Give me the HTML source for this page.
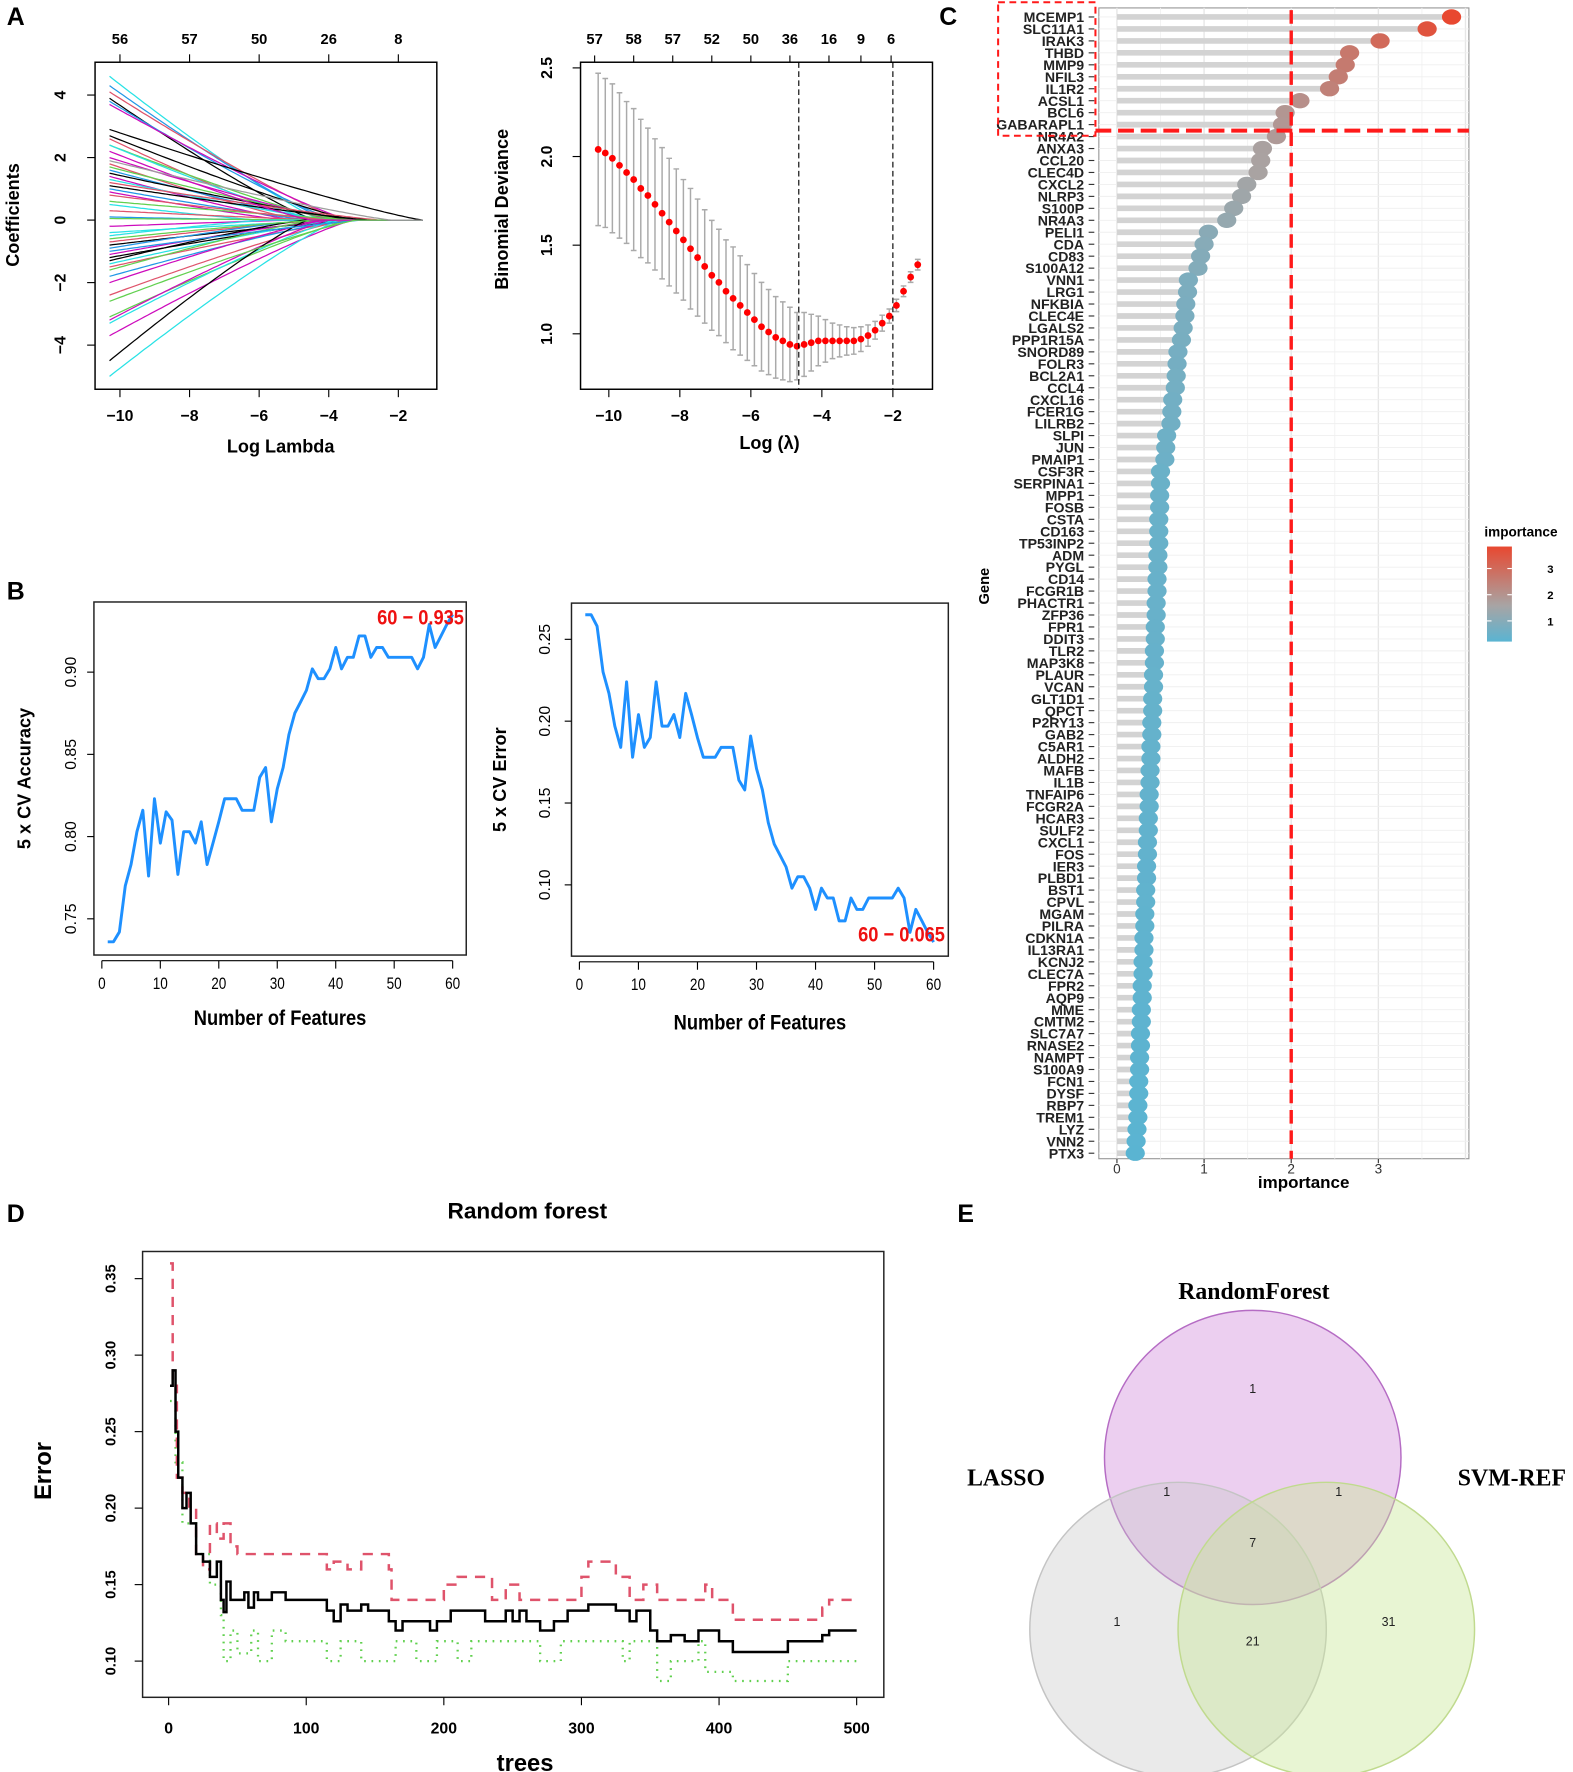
<!DOCTYPE html>
<html><head><meta charset="utf-8"><style>
html,body{margin:0;padding:0;background:#fff;}
svg{display:block;font-family:"Liberation Sans",Arial,sans-serif;}
</style></head><body>
<svg id="fig" xmlns="http://www.w3.org/2000/svg" width="1573" height="1772" viewBox="0 0 1390 1566" preserveAspectRatio="none"></svg>
<script>
// ---------- DATA ----------
const coefStart=[4.6,4.3,4.1,3.9,3.8,3.7,2.9,2.7,2.6,2.4,2.4,2.0,1.8,1.7,1.6,1.5,1.4,1.3,1.2,1.0,0.9,0.6,0.5,0.3,0.1,0.05,-0.2,-0.4,-0.5,-0.7,-0.8,-0.9,-1.1,-1.2,-1.3,-1.4,-1.5,-1.6,-1.8,-2.0,-2.4,-3.1,-3.2,-3.3,-3.7,-4.5,-5.0,1.1,-0.6,0.8,-1.0,2.2,-2.6,1.9];
const coefZero=[-4.2,-4.0,-3.6,-4.4,-3.8,-3.4,-1.3,-3.3,-4.6,-3.9,-4.3,-3.7,-4.8,-3.5,-4.1,-3.2,-5.0,-3.9,-2.5,-4.5,-5.2,-3.1,-6.0,-4.0,-5.5,-3.0,-4.9,-3.6,-5.8,-4.2,-3.3,-4.6,-4.0,-3.4,-4.7,-3.8,-3.2,-4.4,-3.6,-4.1,-3.5,-3.4,-4.0,-3.8,-3.3,-4.6,-3.7,-2.8,-4.3,-3.9,-3.0,-4.5,-3.2,-2.2];
const coefColors=["#28E2E5","#2297E6","#DF536B","#000000","#2297E6","#CD0BBC","#000000","#000000","#DF536B","#61D04F","#28E2E5","#CD0BBC","#DF536B","#61D04F","#2297E6","#000000","#CD0BBC","#28E2E5","#DF536B","#2297E6","#CD0BBC","#61D04F","#28E2E5","#DF536B","#2297E6","#61D04F","#CD0BBC","#28E2E5","#28E2E5","#DF536B","#000000","#2297E6","#CD0BBC","#000000","#000000","#28E2E5","#DF536B","#61D04F","#2297E6","#CD0BBC","#DF536B","#61D04F","#CD0BBC","#28E2E5","#CD0BBC","#000000","#28E2E5","#000000","#61D04F","#DF536B","#2297E6","#CD0BBC","#61D04F","#9E9E9E"];
const lamTicks=[-10,-8,-6,-4,-2];
const dfTopA=["56","57","50","26","8"];
const coefTicks=[-4,-2,0,2,4];
const cvLam=[-10.3,-10.1,-9.9,-9.7,-9.5,-9.3,-9.1,-8.9,-8.7,-8.5,-8.3,-8.1,-7.9,-7.7,-7.5,-7.3,-7.1,-6.9,-6.7,-6.5,-6.3,-6.1,-5.9,-5.7,-5.5,-5.3,-5.1,-4.9,-4.7,-4.5,-4.3,-4.1,-3.9,-3.7,-3.5,-3.3,-3.1,-2.9,-2.7,-2.5,-2.3,-2.1,-1.9,-1.7,-1.5,-1.3];
const cvMean=[2.04,2.02,1.99,1.95,1.91,1.87,1.82,1.78,1.73,1.68,1.63,1.58,1.53,1.48,1.43,1.38,1.33,1.29,1.24,1.20,1.16,1.12,1.08,1.04,1.01,0.98,0.96,0.94,0.93,0.94,0.95,0.96,0.96,0.96,0.96,0.96,0.96,0.97,0.99,1.02,1.06,1.10,1.16,1.24,1.32,1.39];
const cvSE=[0.43,0.42,0.42,0.41,0.40,0.40,0.39,0.38,0.37,0.37,0.36,0.35,0.34,0.34,0.33,0.32,0.31,0.30,0.29,0.29,0.28,0.27,0.26,0.25,0.24,0.23,0.22,0.21,0.19,0.18,0.16,0.14,0.12,0.10,0.09,0.08,0.075,0.07,0.06,0.05,0.045,0.04,0.035,0.03,0.03,0.03];
const dfTopB=["57","58","57","52","50","36","16","9","6"];
const dfTopBLam=[-10.4,-9.3,-8.2,-7.1,-6.0,-4.9,-3.8,-2.9,-2.05];
const devTicks=[1.0,1.5,2.0,2.5];
const lamMin=-4.65, lam1se=-2.0;
const nFeat=[1,2,3,4,5,6,7,8,9,10,11,12,13,14,15,16,17,18,19,20,21,22,23,24,25,26,27,28,29,30,31,32,33,34,35,36,37,38,39,40,41,42,43,44,45,46,47,48,49,50,51,52,53,54,55,56,57,58,59,60];
const accVals=[0.736,0.736,0.742,0.77,0.783,0.803,0.816,0.776,0.823,0.796,0.815,0.81,0.777,0.803,0.803,0.796,0.809,0.783,0.796,0.809,0.823,0.823,0.823,0.816,0.816,0.816,0.836,0.842,0.809,0.829,0.842,0.862,0.875,0.882,0.889,0.902,0.896,0.896,0.902,0.915,0.902,0.909,0.909,0.922,0.922,0.909,0.915,0.915,0.909,0.909,0.909,0.909,0.909,0.902,0.909,0.929,0.915,0.922,0.929,0.935];
const errVals=[0.265,0.265,0.258,0.23,0.217,0.197,0.184,0.224,0.178,0.204,0.184,0.19,0.224,0.197,0.197,0.204,0.19,0.217,0.204,0.19,0.178,0.178,0.178,0.184,0.184,0.184,0.164,0.158,0.191,0.171,0.158,0.138,0.125,0.118,0.111,0.098,0.105,0.105,0.098,0.085,0.098,0.092,0.092,0.078,0.078,0.092,0.085,0.085,0.092,0.092,0.092,0.092,0.092,0.098,0.092,0.071,0.085,0.078,0.071,0.065];
const featTicks=[0,10,20,30,40,50,60];
const accTicks=[0.75,0.80,0.85,0.90];
const errTicks=[0.10,0.15,0.20,0.25];
const genes=["MCEMP1","SLC11A1","IRAK3","THBD","MMP9","NFIL3","IL1R2","ACSL1","BCL6","GABARAPL1","NR4A2","ANXA3","CCL20","CLEC4D","CXCL2","NLRP3","S100P","NR4A3","PELI1","CDA","CD83","S100A12","VNN1","LRG1","NFKBIA","CLEC4E","LGALS2","PPP1R15A","SNORD89","FOLR3","BCL2A1","CCL4","CXCL16","FCER1G","LILRB2","SLPI","JUN","PMAIP1","CSF3R","SERPINA1","MPP1","FOSB","CSTA","CD163","TP53INP2","ADM","PYGL","CD14","FCGR1B","PHACTR1","ZFP36","FPR1","DDIT3","TLR2","MAP3K8","PLAUR","VCAN","GLT1D1","QPCT","P2RY13","GAB2","C5AR1","ALDH2","MAFB","IL1B","TNFAIP6","FCGR2A","HCAR3","SULF2","CXCL1","FOS","IER3","PLBD1","BST1","CPVL","MGAM","PILRA","CDKN1A","IL13RA1","KCNJ2","CLEC7A","FPR2","AQP9","MME","CMTM2","SLC7A7","RNASE2","NAMPT","S100A9","FCN1","DYSF","RBP7","TREM1","LYZ","VNN2","PTX3"];
const importance=[3.84,3.56,3.02,2.67,2.62,2.54,2.44,2.10,1.93,1.90,1.83,1.67,1.65,1.62,1.49,1.43,1.34,1.26,1.05,1.00,0.96,0.93,0.82,0.81,0.79,0.78,0.76,0.74,0.70,0.69,0.68,0.67,0.64,0.63,0.62,0.57,0.56,0.55,0.50,0.50,0.49,0.49,0.48,0.48,0.48,0.47,0.47,0.46,0.46,0.45,0.45,0.44,0.44,0.43,0.43,0.42,0.42,0.41,0.41,0.40,0.40,0.39,0.39,0.38,0.38,0.37,0.37,0.36,0.36,0.35,0.35,0.34,0.34,0.33,0.33,0.32,0.32,0.31,0.31,0.30,0.30,0.29,0.29,0.28,0.28,0.27,0.27,0.26,0.26,0.25,0.25,0.24,0.24,0.23,0.22,0.21];
const impTicks=[0,1,2,3];
const impCut=2;
const oobTrees=[1,3,5,7,10,13,16,20,25,30,35,38,40,42,45,50,55,58,62,65,75,85,115,120,125,130,135,140,145,160,165,170,190,195,205,230,245,250,255,260,270,280,290,300,305,325,335,340,350,355,365,375,385,395,400,410,450,475,480,500];
const oobVals=[0.28,0.29,0.25,0.22,0.20,0.21,0.19,0.17,0.165,0.155,0.165,0.14,0.132,0.152,0.14,0.14,0.145,0.135,0.145,0.14,0.145,0.14,0.133,0.126,0.137,0.133,0.133,0.137,0.133,0.126,0.12,0.126,0.12,0.126,0.133,0.126,0.133,0.126,0.133,0.126,0.12,0.126,0.133,0.133,0.137,0.133,0.126,0.133,0.12,0.113,0.117,0.113,0.12,0.12,0.113,0.106,0.113,0.117,0.12,0.12];
const c1Trees=[1,3,6,10,15,20,25,30,35,40,45,50,115,120,130,140,160,162,200,210,235,245,255,300,305,325,335,345,355,390,395,410,475,480,500];
const c1Vals=[0.36,0.28,0.22,0.21,0.20,0.17,0.16,0.19,0.18,0.19,0.175,0.17,0.16,0.165,0.16,0.17,0.16,0.14,0.15,0.155,0.14,0.15,0.14,0.155,0.165,0.155,0.14,0.15,0.14,0.15,0.14,0.127,0.135,0.14,0.14];
const c2Trees=[1,5,10,20,30,38,40,45,50,60,65,75,85,115,125,140,165,180,195,210,220,270,285,330,335,355,365,385,390,410,450,500];
const c2Vals=[0.27,0.23,0.19,0.17,0.15,0.13,0.10,0.12,0.105,0.12,0.10,0.12,0.113,0.10,0.113,0.10,0.113,0.10,0.113,0.10,0.113,0.10,0.113,0.10,0.113,0.087,0.10,0.113,0.093,0.087,0.10,0.10];
const treeTicks=[0,100,200,300,400,500];
const rfErrTicks=[0.10,0.15,0.20,0.25,0.30,0.35];
const vennSets=["RandomForest","LASSO","SVM-REF"];
const vennCounts=[1,1,1,7,1,21,31];

// ---------- HELPERS ----------
const NS='http://www.w3.org/2000/svg';
const svg=document.getElementById('fig');
function mk(tag,attrs,parent){const e=document.createElementNS(NS,tag);for(const k in attrs)e.setAttribute(k,attrs[k]);(parent||svg).appendChild(e);return e;}
function txt(str,x,y,opts,parent){const e=mk('text',Object.assign({x:x,y:y},opts||{}),parent);e.textContent=str;return e;}
function lin(d0,d1,r0,r1){return v=>r0+(v-d0)/(d1-d0)*(r1-r0);}
function grp(name){const g=mk('g',{});return g;}
const B={'font-weight':'bold'};

[["A",6,22],["B",6,530],["C",830,22],["D",6,1080],["E",846,1080]].forEach(p=>{
  const t=txt(p[0],p[1],p[2],{'font-size':22,'font-weight':'bold'});
  
  
});

// ---------- A LEFT ----------
(function(){
  const g=grp('lasso-coef-chart');
  const X=lin(-10,-2,106,352), Y=lin(-4,4,305,84);
  const L=84,R=386,T=55,Bt=344;
  const cp=mk('clipPath',{id:'clipA'},g);mk('rect',{x:L,y:T,width:R-L,height:Bt-T},cp);
  const lg=mk('g',{'clip-path':'url(#clipA)'},g);
  coefStart.forEach((s,i)=>{
    let d='';const z=coefZero[i];
    for(let l=-10.3;l<=-1.29;l+=0.1){
      const f=l<z?Math.pow((z-l)/(z+10.3),1.15):0;
      d+=(d?'L':'M')+X(l).toFixed(1)+','+Y(s*f).toFixed(1);
    }
    const p=mk('path',{d:d,fill:'none',stroke:coefColors[i],'stroke-width':1.1},lg);
    
    
  });
  const box=mk('rect',{x:L,y:T,width:R-L,height:Bt-T,fill:'none',stroke:'#000','stroke-width':1.3},g);
  
  lamTicks.forEach((v,i)=>{
    mk('line',{x1:X(v),x2:X(v),y1:Bt,y2:Bt+7,stroke:'#000'},g);
    const t=txt(String(v).replace('-','−'),X(v),372,Object.assign({'font-size':14,'text-anchor':'middle'},B),g);
    
    mk('line',{x1:X(v),x2:X(v),y1:T,y2:T-7,stroke:'#000'},g);
    const u=txt(dfTopA[i],X(v),39,Object.assign({'font-size':13,'text-anchor':'middle'},B),g);
    
  });
  coefTicks.forEach(v=>{
    mk('line',{x1:L,x2:L-7,y1:Y(v),y2:Y(v),stroke:'#000'},g);
    const t=txt(String(v).replace('-','−'),58,Y(v),Object.assign({'font-size':14,'text-anchor':'middle',transform:'rotate(-90 58 '+Y(v)+')'},B),g);
    
  });
  const xt=txt('Log Lambda',248,400,Object.assign({'font-size':16,'text-anchor':'middle'},B),g);
  
  const yt=txt('Coefficients',17,190,Object.assign({'font-size':16,'text-anchor':'middle',transform:'rotate(-90 17 190)'},B),g);
  
})();

// ---------- A RIGHT ----------
(function(){
  const g=grp('cv-deviance-chart');
  const X=lin(-10,-2,538,789), Y=lin(1,2.5,295,60);
  const L=513,R=824,T=55,Bt=344;
  cvLam.forEach((l,i)=>{
    const x=X(l),y1=Y(cvMean[i]+cvSE[i]),y2=Y(cvMean[i]-cvSE[i]);
    const e=mk('path',{d:`M${x},${y1}V${y2}M${x-2.5},${y1}H${x+2.5}M${x-2.5},${y2}H${x+2.5}`,stroke:'#aaaaaa','stroke-width':1.3,fill:'none'},g);
    
  });
  cvLam.forEach((l,i)=>{
    const c=mk('circle',{cx:X(l),cy:Y(cvMean[i]),r:3.0,fill:'#ff0000'},g);
    
  });
  [lamMin,lam1se].forEach(l=>{
    const v=mk('line',{x1:X(l),x2:X(l),y1:T,y2:Bt,stroke:'#000','stroke-dasharray':'5,3','stroke-width':1},g);
    
  });
  const box=mk('rect',{x:L,y:T,width:R-L,height:Bt-T,fill:'none',stroke:'#000','stroke-width':1.3},g);
  
  lamTicks.forEach(v=>{
    mk('line',{x1:X(v),x2:X(v),y1:Bt,y2:Bt+7,stroke:'#000'},g);
    const t=txt(String(v).replace('-','−'),X(v),372,Object.assign({'font-size':14,'text-anchor':'middle'},B),g);
    
  });
  dfTopB.forEach((s,i)=>{
    const u=txt(s,X(dfTopBLam[i]),39,Object.assign({'font-size':13,'text-anchor':'middle'},B),g);
    
    mk('line',{x1:X(dfTopBLam[i]),x2:X(dfTopBLam[i]),y1:T,y2:T-6,stroke:'#000'},g);
  });
  devTicks.forEach(v=>{
    mk('line',{x1:L,x2:L-7,y1:Y(v),y2:Y(v),stroke:'#000'},g);
    const t=txt(v.toFixed(1),488,Y(v),Object.assign({'font-size':14,'text-anchor':'middle',transform:'rotate(-90 488 '+Y(v)+')'},B),g);
    
  });
  const xt=txt('Log (λ)',680,397,Object.assign({'font-size':16,'text-anchor':'middle'},B),g);
  
  const yt=txt('Binomial Deviance',449,185,Object.assign({'font-size':16,'text-anchor':'middle',transform:'rotate(-90 449 185)'},B),g);
  
})();

// ---------- B ----------
function lineChart(name,vals,L,R,T,Bt,x0,x60,yA,yAv,yB,yBv,ticks,ylabel,ylabX,ytickX,note,noteX,noteY,xtitleY){
  const g=grp(name);
  const X=lin(0,60,x0,x60), Y=lin(yAv,yBv,yA,yB);
  let d='';nFeat.forEach((n,i)=>{d+=(d?'L':'M')+X(n).toFixed(1)+','+Y(vals[i]).toFixed(1);});
  const p=mk('path',{d:d,fill:'none',stroke:'#1e90ff','stroke-width':2.6,'stroke-linejoin':'round'},g);
  
  const box=mk('rect',{x:L,y:T,width:R-L,height:Bt-T,fill:'none',stroke:'#222','stroke-width':1.3},g);
  
  featTicks.forEach(v=>{
    mk('line',{x1:X(v),x2:X(v),y1:Bt+5,y2:Bt+12,stroke:'#000'},g);
    const t=txt(String(v),X(v)/0.8,Bt+30,{'font-size':15,'text-anchor':'middle',transform:`scale(0.8,1)`},g);
    
  });
  mk('line',{x1:X(0),x2:X(60),y1:Bt+5,y2:Bt+5,stroke:'#000'},g);
  ticks.forEach(v=>{
    mk('line',{x1:L,x2:L-6,y1:Y(v),y2:Y(v),stroke:'#000'},g);
    const t=txt(v.toFixed(2),ytickX,Y(v),{'font-size':14,'text-anchor':'middle',transform:`rotate(-90 ${ytickX} ${Y(v)})`},g);
    
  });
  const yt=txt(ylabel,ylabX,(T+Bt)/2,Object.assign({'font-size':16,'text-anchor':'middle',transform:`rotate(-90 ${ylabX} ${(T+Bt)/2})`},B),g);
  
  const xt=txt('Number of Features',(L+R)/2/0.85,xtitleY,Object.assign({'font-size':19,'text-anchor':'middle',transform:'scale(0.85,1)'},B),g);
  
  const n=txt(note,noteX/0.85,noteY,Object.assign({'font-size':19,'text-anchor':'end',fill:'#ee1111',transform:'scale(0.85,1)'},B),g);
  
}
lineChart('cv-accuracy-chart',accVals,83,412,532,844,90,400,812,0.75,594,0.90,accTicks,'5 x CV Accuracy',27,67,'60 − 0.935',410,552,906);
lineChart('cv-error-chart',errVals,505,838,533,845,512,825,782,0.10,565,0.25,errTicks,'5 x CV Error',447,486,'60 − 0.065',835,832,910);

// ---------- C ----------
(function(){
  const g=grp('gene-importance-chart');
  const L=971,R=1298,T=7,Bt=1024;
  const X=lin(0,3,987,1218);
  const Y=i=>15+i*10.57;
  mk('rect',{x:L,y:T,width:R-L,height:Bt-T,fill:'#fff',stroke:'#999','stroke-width':1},g);
  for(let v=0;v<=4;v+=0.5){const x=X(v);if(x<R)mk('line',{x1:x,x2:x,y1:T,y2:Bt,stroke:v%1===0?'#e6e6e6':'#f2f2f2','stroke-width':v%1===0?1.2:0.8},g);}
  genes.forEach((n,i)=>mk('line',{x1:L,x2:R,y1:Y(i),y2:Y(i),stroke:'#efefef','stroke-width':0.8},g));
  const c0=[90,180,210],c1=[168,164,164],c2=[232,72,48];
  function col(v){const t=Math.max(0,Math.min(1,(v-0.21)/(3.84-0.21)));let a,b,u;if(t<0.38){a=c0;b=c1;u=t/0.38;}else{a=c1;b=c2;u=(t-0.38)/0.62;}return 'rgb('+a.map((q,k)=>Math.round(q+(b[k]-q)*u)).join(',')+')';}
  genes.forEach((n,i)=>{
    const s=mk('line',{x1:X(0),x2:X(importance[i]),y1:Y(i),y2:Y(i),stroke:'#d3d3d3','stroke-width':5},g);
    
  });
  genes.forEach((n,i)=>{
    const e=mk('ellipse',{cx:X(importance[i]),cy:Y(i),rx:8.5,ry:6.8,fill:col(importance[i])},g);
    
    const t=txt(n,958,Y(i)+4.5,Object.assign({'font-size':12.5,'text-anchor':'end',fill:'#222'},B),g);
    
    mk('line',{x1:962,x2:967,y1:Y(i),y2:Y(i),stroke:'#333'},g);
  });
  impTicks.forEach(v=>{
    mk('line',{x1:X(v),x2:X(v),y1:Bt,y2:Bt+4,stroke:'#333'},g);
    const t=txt(String(v),X(v),1037,{'font-size':12,'text-anchor':'middle',fill:'#333'},g);
    
  });
  const cut=mk('line',{x1:X(impCut),x2:X(impCut),y1:T+2,y2:Bt,stroke:'#ff1a1a','stroke-width':3,'stroke-dasharray':'12,6'},g);
  
  const hz=mk('line',{x1:968,x2:R,y1:(Y(9)+Y(10))/2,y2:(Y(9)+Y(10))/2,stroke:'#ff1a1a','stroke-width':3.5,'stroke-dasharray':'14,6'},g);
  
  const bx=mk('rect',{x:882,y:2,width:86,height:118,fill:'none',stroke:'#ff1a1a','stroke-width':1.8,'stroke-dasharray':'6,4'},g);
  
  const xt=txt('importance',1152,1050,Object.assign({'font-size':15,'text-anchor':'middle'},B),g);
  
  const yt=txt('Gene',874,518,Object.assign({'font-size':13,'text-anchor':'middle',transform:'rotate(-90 874 518)'},B),g);
  
  const defs=mk('defs',{},g);const lgd=mk('linearGradient',{id:'impGrad',x1:0,y1:1,x2:0,y2:0},defs);
  [[0,col(0.21)],[0.38,col(1.59)],[1,col(3.84)]].forEach(s=>mk('stop',{offset:s[0],'stop-color':s[1]},lgd));
  const lt=txt('importance',1344,474,Object.assign({'font-size':12,'text-anchor':'middle'},B),g);
  
  const bar=mk('rect',{x:1314,y:483,width:22,height:84,fill:'url(#impGrad)'},g);
  
  const LY=lin(0.21,3.84,567,483);
  [1,2,3].forEach(v=>{
    mk('line',{x1:1314,x2:1318,y1:LY(v),y2:LY(v),stroke:'#fff'},g);
    mk('line',{x1:1332,x2:1336,y1:LY(v),y2:LY(v),stroke:'#fff'},g);
    const t=txt(String(v),1370,LY(v)+4,Object.assign({'font-size':10,'text-anchor':'middle'},B),g);
    
  });
})();

// ---------- D ----------
(function(){
  const g=grp('random-forest-error-chart');
  const L=126,R=781,T=1106,Bt=1500;
  const X=lin(0,500,149,757), Y=lin(0.10,0.35,1468,1130);
  const tit=txt('Random forest',466,1077,Object.assign({'font-size':20,'text-anchor':'middle'},B),g);
  
  function step(tr,vals){let d='M'+X(tr[0])+','+Y(vals[0]);for(let i=1;i<tr.length;i++){d+='H'+X(tr[i]).toFixed(1)+'V'+Y(vals[i]).toFixed(1);}return d;}
  const s2=mk('path',{d:step(c2Trees,c2Vals),fill:'none',stroke:'#61D04F','stroke-width':2,'stroke-dasharray':'1.5,5'},g);
  
  const s1=mk('path',{d:step(c1Trees,c1Vals),fill:'none',stroke:'#DF536B','stroke-width':2.2,'stroke-dasharray':'9,7'},g);
  
  const s0=mk('path',{d:step(oobTrees,oobVals),fill:'none',stroke:'#000','stroke-width':2.2},g);
  
  const box=mk('rect',{x:L,y:T,width:R-L,height:Bt-T,fill:'none',stroke:'#222','stroke-width':1.3},g);
  
  treeTicks.forEach(v=>{
    mk('line',{x1:X(v),x2:X(v),y1:Bt,y2:Bt+7,stroke:'#000'},g);
    const t=txt(String(v),X(v),1532,Object.assign({'font-size':14,'text-anchor':'middle'},B),g);
    
  });
  rfErrTicks.forEach(v=>{
    mk('line',{x1:L,x2:L-7,y1:Y(v),y2:Y(v),stroke:'#000'},g);
    const t=txt(v.toFixed(2),102,Y(v),Object.assign({'font-size':13,'text-anchor':'middle',transform:`rotate(-90 102 ${Y(v)})`},B),g);
    
  });
  const xt=txt('trees',464,1565,Object.assign({'font-size':21,'text-anchor':'middle'},B),g);
  
  const yt=txt('Error',45,1300,Object.assign({'font-size':21,'text-anchor':'middle',transform:'rotate(-90 45 1300)'},B),g);
  
})();

// ---------- E ----------
(function(){
  const g=grp('venn-diagram');
  const rf=mk('ellipse',{cx:1107,cy:1288,rx:131,ry:130,fill:'rgba(210,140,220,0.42)',stroke:'#b56cc4','stroke-width':1.3},g);
  
  const la=mk('ellipse',{cx:1041,cy:1440,rx:131,ry:130,fill:'rgba(200,200,200,0.38)',stroke:'#c4c4c4','stroke-width':1.3},g);
  
  const sv=mk('ellipse',{cx:1172,cy:1440,rx:131,ry:130,fill:'rgba(200,230,150,0.42)',stroke:'#c0da8e','stroke-width':1.3},g);
  
  const lab=[[1108,1148,'middle'],[889,1313,'middle'],[1336,1313,'middle']];
  vennSets.forEach((s,i)=>{
    const t=txt(s,lab[i][0],lab[i][1],{'font-size':21,'font-weight':'bold','text-anchor':lab[i][2],'font-family':'"Liberation Serif",serif'},g);
    
  });
  const pos=[[1107,1231],[1031,1322],[1183,1322],[1107,1367],[987,1437],[1107,1454],[1227,1437]];
  vennCounts.forEach((c,i)=>{
    const t=txt(String(c),pos[i][0],pos[i][1],{'font-size':11,'text-anchor':'middle',fill:'#222'},g);
    
  });
})();
</script>
</body></html>
